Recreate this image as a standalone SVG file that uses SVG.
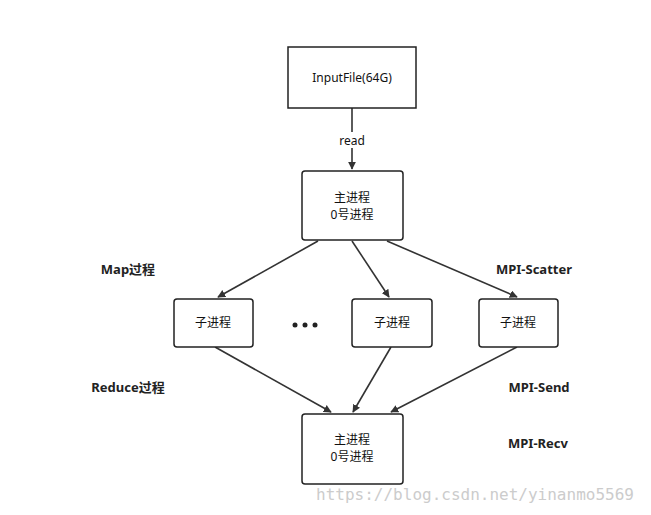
<svg xmlns="http://www.w3.org/2000/svg" width="651" height="515" viewBox="0 0 651 515">
<style>
.b{fill:#fff;stroke:#222;stroke-width:1.5}
.t{font-family:"Noto Sans","Noto Sans CJK SC",sans-serif;font-size:12px;fill:#111;text-anchor:middle}
.l{font-family:"Noto Sans","Noto Sans CJK SC",sans-serif;font-size:13px;font-weight:bold;fill:#222;text-anchor:middle}
.c{stroke:#333;stroke-width:1.6;fill:none;marker-end:url(#a)}
</style>
<defs><marker id="a" viewBox="0 0 10 10" refX="9" refY="5" markerWidth="8" markerHeight="8" orient="auto" markerUnits="userSpaceOnUse"><path d="M0,0L10,5L0,10z" fill="#333"/></marker></defs>
<rect width="651" height="515" fill="#fff"/>
<g id="connectors">
<line class="c" x1="352" y1="108" x2="352" y2="169"/>
<rect x="336" y="132" width="34" height="16" fill="#fff"/>
<text class="t" x="352" y="145">read</text>
<line class="c" x1="318" y1="241" x2="218" y2="297"/>
<line class="c" x1="352" y1="241" x2="389" y2="297"/>
<line class="c" x1="387" y1="241" x2="517" y2="297"/>
<line class="c" x1="215" y1="347" x2="331" y2="412"/>
<line class="c" x1="391" y1="347" x2="353" y2="412"/>
<line class="c" x1="517" y1="347" x2="391" y2="412"/>
</g>
<g id="input"><rect class="b" x="288" y="47" width="128" height="61"/><text class="t" x="352" y="82">InputFile(64G)</text></g>
<g id="master"><rect class="b" x="302" y="171" width="101" height="69" rx="3"/><text class="t" x="352" y="202">主进程</text><text class="t" x="352" y="219">0号进程</text></g>
<g id="child1"><rect class="b" x="174" y="299" width="79" height="48" rx="3"/><text class="t" x="213" y="327">子进程</text></g>
<g id="child2"><rect class="b" x="352" y="299" width="80" height="48" rx="3"/><text class="t" x="392" y="327">子进程</text></g>
<g id="child3"><rect class="b" x="479" y="299" width="79" height="48" rx="3"/><text class="t" x="518" y="327">子进程</text></g>
<g id="master2"><rect class="b" x="302" y="414" width="101" height="70" rx="3"/><text class="t" x="352" y="444">主进程</text><text class="t" x="352" y="461">0号进程</text></g>
<g id="dots" fill="#222"><circle cx="295" cy="325" r="2.5"/><circle cx="305" cy="325" r="2.5"/><circle cx="315" cy="325" r="2.5"/></g>
<g id="labels">
<text class="l" x="128" y="274">Map过程</text>
<text class="l" x="534" y="274">MPI-Scatter</text>
<text class="l" x="128" y="392">Reduce过程</text>
<text class="l" x="539" y="392">MPI-Send</text>
<text class="l" x="538" y="448">MPI-Recv</text>
</g>
<text x="475" y="500" font-family="DejaVu Sans Mono,monospace" font-size="16" fill="#ccc" text-anchor="middle">https://blog.csdn.net/yinanmo5569</text>
</svg>
